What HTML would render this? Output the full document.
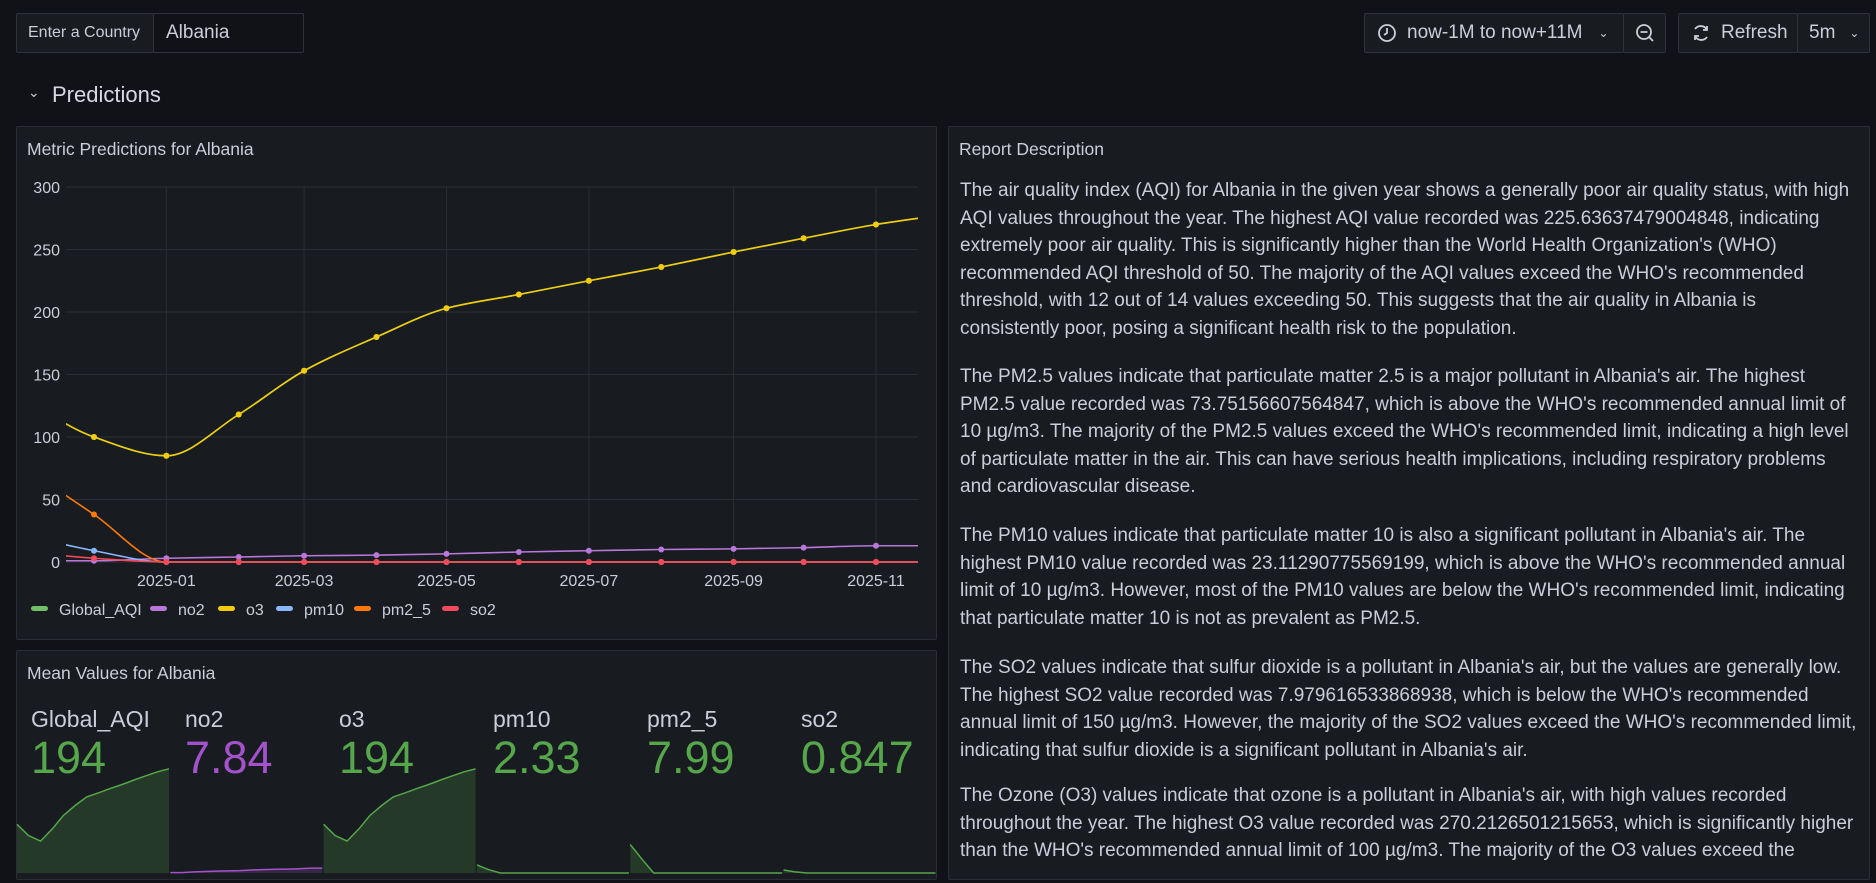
<!DOCTYPE html>
<html><head><meta charset="utf-8">
<style>
*{box-sizing:border-box;margin:0;padding:0}
body{width:1876px;height:883px;background:#111217;font-family:"Liberation Sans",sans-serif;color:#ccccdc;position:relative;overflow:hidden}
.abs{position:absolute}
.btn{position:absolute;background:#181b1f;border:1px solid #2f3238;border-radius:2px;height:40px;top:13px;display:flex;align-items:center;font-size:19px;color:#ccccdc}
.panel{position:absolute;background:#181b1f;border:1px solid #2a2d33;border-radius:2px}
.ptitle{position:absolute;left:10px;top:12px;font-size:17.5px;color:#ccccdc}
.txt{position:absolute;left:960px;font-size:19px;color:#ccccdc;white-space:nowrap}
.txt div{height:27.6px;line-height:27.6px}
.stl{position:absolute;top:706px;font-size:23px;color:#ccccdc}
.stv{position:absolute;top:732px;font-size:45px;color:#56a64b}
</style></head><body>
<div class="btn" style="left:16px;width:138px;padding-left:11px;font-size:16px">Enter a Country</div>
<div class="btn" style="left:153px;width:151px;padding-left:12px;background:#111217">Albania</div>

<div class="btn" style="left:1364px;width:260px;padding-left:12px">
<svg width="20" height="20" viewBox="0 0 20 20"><circle cx="10" cy="10" r="8" fill="none" stroke="#ccccdc" stroke-width="1.8"/><path d="M10 5v5l-3 2" fill="none" stroke="#ccccdc" stroke-width="1.8"/></svg>
<span style="margin-left:10px">now-1M to now+11M</span><span style="margin-left:16px;font-size:12px">&#8964;</span></div>
<div class="btn" style="left:1623px;width:43px;justify-content:center">
<svg width="20" height="20" viewBox="0 0 20 20"><circle cx="9" cy="9" r="7" fill="none" stroke="#ccccdc" stroke-width="1.8"/><path d="M5.5 9h7M14 14l4 4" stroke="#ccccdc" stroke-width="1.8"/></svg></div>
<div class="btn" style="left:1678px;width:120px;padding-left:12px">
<svg width="20" height="20" viewBox="0 0 20 20"><path d="M16 7A7 7 0 0 0 4 6M4 13a7 7 0 0 0 12 1" fill="none" stroke="#ccccdc" stroke-width="1.8"/><path d="M16 3v4h-4M4 17v-4h4" fill="none" stroke="#ccccdc" stroke-width="1.8"/></svg>
<span style="margin-left:10px">Refresh</span></div>
<div class="btn" style="left:1797px;width:73px;padding-left:11px">5m<span style="margin-left:14px;font-size:12px">&#8964;</span></div>

<div class="abs" style="left:28px;top:84px;font-size:14px">&#8964;</div>
<div class="abs" style="left:52px;top:82px;font-size:22px;color:#d8d9e0">Predictions</div>

<div class="panel" style="left:16px;top:126px;width:921px;height:514px">
<div class="ptitle">Metric Predictions for Albania</div></div>
<div class="panel" style="left:16px;top:650px;width:921px;height:230px">
<div class="ptitle">Mean Values for Albania</div></div>
<div class="panel" style="left:948px;top:126px;width:922px;height:754px">
<div class="ptitle">Report Description</div></div>

<svg id="chart" class="abs" style="left:0;top:0" width="1876" height="883"></svg>

<div class="stl" style="left:31px">Global_AQI</div>
<div class="stl" style="left:185px">no2</div>
<div class="stl" style="left:339px">o3</div>
<div class="stl" style="left:493px">pm10</div>
<div class="stl" style="left:647px">pm2_5</div>
<div class="stl" style="left:801px">so2</div>
<div class="stv" style="left:31px">194</div>
<div class="stv" style="left:185px;color:#a352cc">7.84</div>
<div class="stv" style="left:339px">194</div>
<div class="stv" style="left:493px">2.33</div>
<div class="stv" style="left:647px">7.99</div>
<div class="stv" style="left:801px">0.847</div>

<div class="txt" style="top:177px">
<div>The air quality index (AQI) for Albania in the given year shows a generally poor air quality status, with high</div>
<div>AQI values throughout the year. The highest AQI value recorded was 225.63637479004848, indicating</div>
<div>extremely poor air quality. This is significantly higher than the World Health Organization's (WHO)</div>
<div>recommended AQI threshold of 50. The majority of the AQI values exceed the WHO's recommended</div>
<div>threshold, with 12 out of 14 values exceeding 50. This suggests that the air quality in Albania is</div>
<div>consistently poor, posing a significant health risk to the population.</div></div>
<div class="txt" style="top:363px">
<div>The PM2.5 values indicate that particulate matter 2.5 is a major pollutant in Albania's air. The highest</div>
<div>PM2.5 value recorded was 73.75156607564847, which is above the WHO's recommended annual limit of</div>
<div>10 µg/m3. The majority of the PM2.5 values exceed the WHO's recommended limit, indicating a high level</div>
<div>of particulate matter in the air. This can have serious health implications, including respiratory problems</div>
<div>and cardiovascular disease.</div></div>
<div class="txt" style="top:522px">
<div>The PM10 values indicate that particulate matter 10 is also a significant pollutant in Albania's air. The</div>
<div>highest PM10 value recorded was 23.11290775569199, which is above the WHO's recommended annual</div>
<div>limit of 10 µg/m3. However, most of the PM10 values are below the WHO's recommended limit, indicating</div>
<div>that particulate matter 10 is not as prevalent as PM2.5.</div></div>
<div class="txt" style="top:654px">
<div>The SO2 values indicate that sulfur dioxide is a pollutant in Albania's air, but the values are generally low.</div>
<div>The highest SO2 value recorded was 7.979616533868938, which is below the WHO's recommended</div>
<div>annual limit of 150 µg/m3. However, the majority of the SO2 values exceed the WHO's recommended limit,</div>
<div>indicating that sulfur dioxide is a significant pollutant in Albania's air.</div></div>
<div class="txt" style="top:782px">
<div>The Ozone (O3) values indicate that ozone is a pollutant in Albania's air, with high values recorded</div>
<div>throughout the year. The highest O3 value recorded was 270.2126501215653, which is significantly higher</div>
<div>than the WHO's recommended annual limit of 100 µg/m3. The majority of the O3 values exceed the</div></div>

<script>
const months = ["2024-11-01","2024-12-01","2025-01-01","2025-02-01","2025-03-01","2025-04-01","2025-05-01","2025-06-01","2025-07-01","2025-08-01","2025-09-01","2025-10-01","2025-11-01","2025-12-01"];
const globalAqi = [130,100,85,118,153,180,203,214,225,236,248,259,270,278];
const no2 = [1,1,3,4,5,5.5,6.5,8,9,10,10.5,11.5,13,13];
const o3 = [130,100,85,118,153,180,203,214,225,236,248,259,270,278];
const pm10 = [21.5,9,0,0,0,0,0,0,0,0,0,0,0,0];
const pm2_5 = [76,38,0,0,0,0,0,0,0,0,0,0,0,0];
const so2 = [8,3,0,0,0,0,0,0,0,0,0,0,0,0];
const yTicks = [0,50,100,150,200,250,300];
const xTicks = ["2025-01","2025-03","2025-05","2025-07","2025-09","2025-11"];
const seriesNames = ["Global_AQI","no2","o3","pm10","pm2_5","so2"];

const colors = {"Global_AQI":"#73bf69","no2":"#b877d9","o3":"#f2cc0c","pm10":"#8ab8ff","pm2_5":"#ff780a","so2":"#f2495c"};
const seriesData = {"Global_AQI":globalAqi,"no2":no2,"o3":o3,"pm10":pm10,"pm2_5":pm2_5,"so2":so2};
const NS="http://www.w3.org/2000/svg";
const svg=document.getElementById('chart');
const t0=Date.parse("2024-11-19"), t1=Date.parse("2025-11-19");
const PL=66, PR=918, PT=187, PB=562;
function xs(d){return PL+(Date.parse(d)-t0)/(t1-t0)*(PR-PL);}
function ys(v){return PB-v/300*(PB-PT);}
function mk(tag,attrs){const e=document.createElementNS(NS,tag);for(const k in attrs)e.setAttribute(k,attrs[k]);svg.appendChild(e);return e;}
function monotone(pts){
  const n=pts.length;if(n<2)return "";
  const dx=[],dy=[],m=[];
  for(let i=0;i<n-1;i++){dx.push(pts[i+1][0]-pts[i][0]);dy.push(pts[i+1][1]-pts[i][1]);m.push(dy[i]/dx[i]);}
  const t=[m[0]];
  for(let i=1;i<n-1;i++){t.push(m[i-1]*m[i]<=0?0:3*(dx[i-1]+dx[i])/((2*dx[i]+dx[i-1])/m[i-1]+(dx[i]+2*dx[i-1])/m[i]));}
  t.push(m[n-2]);
  let d="M"+pts[0][0]+","+pts[0][1];
  for(let i=0;i<n-1;i++){const h=dx[i]/3;d+=" C"+(pts[i][0]+h)+","+(pts[i][1]+t[i]*h)+" "+(pts[i+1][0]-h)+","+(pts[i+1][1]-t[i+1]*h)+" "+pts[i+1][0]+","+pts[i+1][1];}
  return d;
}
const defs=mk('defs',{});
const cp=document.createElementNS(NS,'clipPath');cp.setAttribute('id','plotclip');
const cr=document.createElementNS(NS,'rect');cr.setAttribute('x',PL);cr.setAttribute('y',PT-10);cr.setAttribute('width',PR-PL);cr.setAttribute('height',PB-PT+20);
cp.appendChild(cr);defs.appendChild(cp);

yTicks.forEach(v=>{
  const l=mk('line',{x1:PL,x2:PR,y1:ys(v),y2:ys(v),stroke:"#2a2d33","stroke-width":1});
  
  
  const t=mk('text',{x:60,y:ys(v)+6,"text-anchor":"end","font-size":16,fill:"#ccccdc","font-family":"Liberation Sans, sans-serif"});
  t.textContent=v;
  
  
});
xTicks.forEach(s=>{
  const x=xs(s+"-01");
  const l=mk('line',{x1:x,x2:x,y1:PT,y2:PB,stroke:"#2a2d33","stroke-width":1});
  
  
  const t=mk('text',{x:x,y:586,"text-anchor":"middle","font-size":16,fill:"#ccccdc","font-family":"Liberation Sans, sans-serif"});
  t.textContent=s;
  
  
});
const g=mk('g',{"clip-path":"url(#plotclip)"});
seriesNames.forEach(name=>{
  const vals=seriesData[name];
  const pts=months.map((d,i)=>[xs(d),ys(vals[i])]);
  const p=document.createElementNS(NS,'path');
  p.setAttribute('d',monotone(pts));p.setAttribute('fill','none');p.setAttribute('stroke',colors[name]);p.setAttribute('stroke-width',1.6);
  
  
  g.appendChild(p);
  pts.forEach(pt=>{
    if(pt[0]<PL||pt[0]>PR)return;
    const c=document.createElementNS(NS,'circle');
    c.setAttribute('cx',pt[0]);c.setAttribute('cy',pt[1]);c.setAttribute('r',3);c.setAttribute('fill',colors[name]);
    
    
    g.appendChild(c);
  });
});
// legend
const legX=[31,150,218,276,354,442];
seriesNames.forEach((name,i)=>{
  const r=mk('rect',{x:legX[i],y:606,width:17,height:5,rx:2.5,fill:colors[name]});
  
  
  const t=mk('text',{x:legX[i]+28,y:615,"font-size":16,fill:"#ccccdc","font-family":"Liberation Sans, sans-serif"});
  t.textContent=name;
  
  
});
// sparklines
const s0=Date.parse(months[0]), s1=Date.parse(months[months.length-1]);
const SB=873, SH=105, SMAX=280;
seriesNames.forEach((name,i)=>{
  const cx0=17+i*153.3, cw=152;
  const vals=seriesData[name];
  const pts=months.map((d,j)=>[cx0+(Date.parse(d)-s0)/(s1-s0)*cw, SB-vals[j]/SMAX*SH]);
  const col=name==="no2"?"#a352cc":"#56a64b";
  const line=pts.map((p,j)=>(j?"L":"M")+p[0].toFixed(1)+","+p[1].toFixed(1)).join(" ");
  const a=mk('path',{d:line+" L"+pts[pts.length-1][0]+","+SB+" L"+pts[0][0]+","+SB+" Z",fill:col,"fill-opacity":0.22});
  
  
  const l=mk('path',{d:line,fill:"none",stroke:col,"stroke-width":1.5});
  
  
});
</script>
</body></html>
